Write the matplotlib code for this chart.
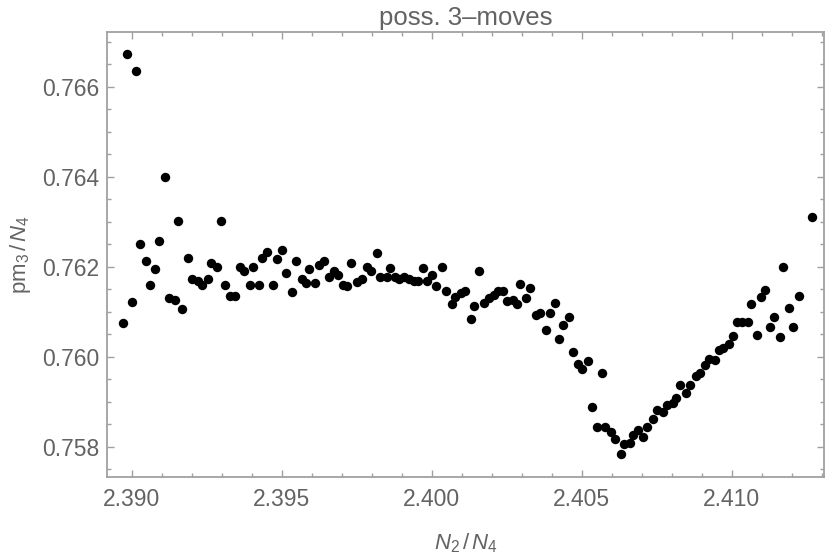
import matplotlib
matplotlib.use('Agg')
import matplotlib.pyplot as plt
from matplotlib.ticker import MultipleLocator, FormatStrFormatter

# values
n2_over_n4 = [
    2.38970, 2.38983, 2.39002, 2.39015, 2.39028, 2.39048, 2.39060, 2.39079, 2.39092, 2.39112,
    2.39123, 2.39145, 2.39155, 2.39169, 2.39188, 2.39201, 2.39220, 2.39233, 2.39253, 2.39264,
    2.39283, 2.39298, 2.39310, 2.39328, 2.39343, 2.39361, 2.39375, 2.39393, 2.39405, 2.39425,
    2.39435, 2.39452, 2.39470, 2.39483, 2.39502, 2.39514, 2.39534, 2.39548, 2.39567, 2.39580,
    2.39591, 2.39612, 2.39623, 2.39642, 2.39658, 2.39675, 2.39689, 2.39705, 2.39719, 2.39731,
    2.39752, 2.39767, 2.39783, 2.39797, 2.39817, 2.39828, 2.39850, 2.39861, 2.39878, 2.39892,
    2.39908, 2.39925, 2.39941, 2.39955, 2.39970, 2.39985, 2.40002, 2.40014, 2.40034, 2.40048,
    2.40067, 2.40079, 2.40097, 2.40111, 2.40130, 2.40142, 2.40157, 2.40174, 2.40192, 2.40208,
    2.40222, 2.40239, 2.40252, 2.40270, 2.40283, 2.40296, 2.40316, 2.40328, 2.40348, 2.40360,
    2.40380, 2.40393, 2.40412, 2.40424, 2.40437, 2.40457, 2.40470, 2.40489, 2.40501, 2.40520,
    2.40533, 2.40552, 2.40568, 2.40577, 2.40597, 2.40610, 2.40630, 2.40641, 2.40662, 2.40672,
    2.40687, 2.40705, 2.40719, 2.40739, 2.40750, 2.40771, 2.40783, 2.40803, 2.40815, 2.40828,
    2.40848, 2.40861, 2.40881, 2.40894, 2.40912, 2.40923, 2.40945, 2.40957, 2.40972, 2.40990,
    2.41003, 2.41018, 2.41035, 2.41053, 2.41064, 2.41084, 2.41097, 2.41110, 2.41128, 2.41140,
    2.41161, 2.41172, 2.41192, 2.41205, 2.41225, 2.41269,
]
pm3_over_n4 = [
    0.76075, 0.76673, 0.76122, 0.76635, 0.76250, 0.76212, 0.76160, 0.76194, 0.76258, 0.76400,
    0.76131, 0.76127, 0.76301, 0.76105, 0.76220, 0.76173, 0.76168, 0.76160, 0.76173, 0.76209,
    0.76199, 0.76301, 0.76160, 0.76135, 0.76135, 0.76199, 0.76190, 0.76160, 0.76199, 0.76160,
    0.76220, 0.76233, 0.76160, 0.76216, 0.76237, 0.76187, 0.76144, 0.76212, 0.76173, 0.76164,
    0.76195, 0.76164, 0.76203, 0.76212, 0.76178, 0.76190, 0.76182, 0.76160, 0.76156, 0.76208,
    0.76165, 0.76173, 0.76200, 0.76190, 0.76230, 0.76176, 0.76178, 0.76196, 0.76178, 0.76173,
    0.76176, 0.76173, 0.76169, 0.76169, 0.76196, 0.76168, 0.76181, 0.76156, 0.76199, 0.76147,
    0.76116, 0.76132, 0.76142, 0.76147, 0.76084, 0.76113, 0.76190, 0.76120, 0.76131, 0.76137,
    0.76147, 0.76147, 0.76123, 0.76126, 0.76117, 0.76161, 0.76130, 0.76152, 0.76092, 0.76096,
    0.76059, 0.76096, 0.76119, 0.76039, 0.76070, 0.76088, 0.76010, 0.75983, 0.75972, 0.75990,
    0.75888, 0.75844, 0.75964, 0.75844, 0.75832, 0.75818, 0.75784, 0.75806, 0.75809, 0.75827,
    0.75836, 0.75822, 0.75843, 0.75861, 0.75882, 0.75878, 0.75893, 0.75896, 0.75909, 0.75938,
    0.75920, 0.75938, 0.75957, 0.75963, 0.75981, 0.75994, 0.75993, 0.76015, 0.76020, 0.76028,
    0.76045, 0.76078, 0.76078, 0.76078, 0.76117, 0.76048, 0.76133, 0.76148, 0.76065, 0.76088,
    0.76044, 0.76199, 0.76109, 0.76065, 0.76134, 0.76310,
]

FRAME = '#a0a0a0'
TEXT = '#636363'

plt.rcParams['font.family'] = ['Liberation Sans', 'DejaVu Sans']
plt.rcParams['mathtext.fontset'] = 'custom'
plt.rcParams['mathtext.rm'] = 'Liberation Sans'
plt.rcParams['mathtext.it'] = 'Liberation Sans:italic'

fig = plt.figure(figsize=(8.3, 5.58), dpi=100)
ax = fig.add_axes([0.1293, 0.1457, 0.8635, 0.7964])

ax.scatter(n2_over_n4, pm3_over_n4, s=46, color='black', linewidths=0, zorder=3)

ax.set_xlim(2.38919, 2.41308)
ax.set_ylim(0.757333, 0.767209)

ax.xaxis.set_major_locator(MultipleLocator(0.005))
ax.xaxis.set_minor_locator(MultipleLocator(0.001))
ax.yaxis.set_major_locator(MultipleLocator(0.002))
ax.yaxis.set_minor_locator(MultipleLocator(0.0005))
ax.xaxis.set_major_formatter(FormatStrFormatter('%.3f'))
ax.yaxis.set_major_formatter(FormatStrFormatter('%.3f'))

for sp in ax.spines.values():
    sp.set_color(FRAME)
    sp.set_linewidth(1.3)

ax.tick_params(which='both', direction='in', top=True, right=True, color=FRAME, width=1.0)
ax.tick_params(which='major', length=5.2, labelsize=16.5, labelcolor=TEXT)
ax.tick_params(which='minor', length=2.8)
ax.tick_params(axis='x', which='major', pad=8)
ax.tick_params(axis='y', which='major', pad=6)

ax.set_xlabel(r'$N_{2}\,/\,N_{4}$', fontsize=16, color=TEXT, labelpad=15)
ax.set_ylabel(r'pm$_{3}\,/\,N_{4}$', fontsize=16, color=TEXT, labelpad=6)
ax.set_title('poss. 3\u2013moves', fontsize=18.5, color=TEXT, pad=5)

fig.savefig('out.png', dpi=100)
